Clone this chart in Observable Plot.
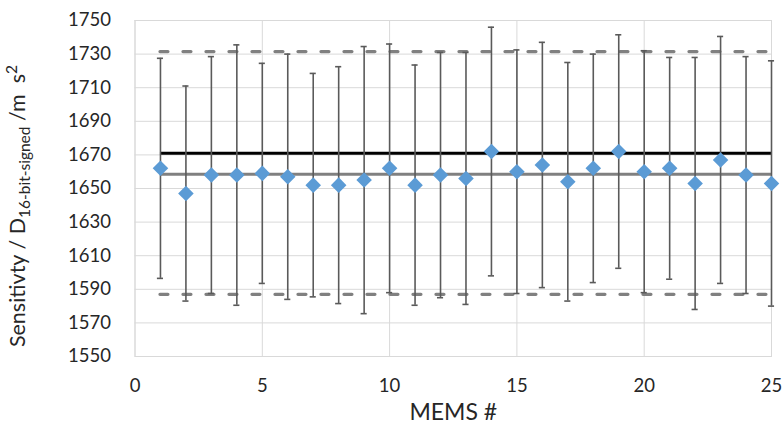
<!DOCTYPE html>
<html>
<head>
<meta charset="utf-8">
<script src="https://cdn.jsdelivr.net/npm/d3@7"></script>
<script src="https://cdn.jsdelivr.net/npm/@observablehq/plot@0.6"></script>
<style>
  body { margin: 0; background: #fff; }
  svg { display: block; }
</style>
</head>
<body>
<div id="chart"></div>
<script>
// MEMS sensor index
const mems = [1, 2, 3, 4, 5, 6, 7, 8, 9, 10, 11, 12, 13, 14, 15, 16, 17, 18, 19, 20, 21, 22, 23, 24, 25];
// Mean sensitivity of each sensor (D16-bit-signed per m s^-2)
const sensitivity = [1662, 1647, 1658, 1658, 1659, 1657, 1652, 1652, 1655, 1662, 1652, 1658, 1656,
                     1672, 1660, 1664, 1654, 1662, 1672, 1660, 1662, 1653, 1667, 1658, 1653];
// Error-bar half width for each sensor
const spread = [65.5, 64, 70.5, 77.5, 65.5, 73, 66.5, 70.5, 79.5, 74, 71.5, 73, 75,
                74, 72.5, 73, 71, 68, 69.5, 72, 66, 75, 73.5, 70.5, 73];
// Reference levels
const nominal = [1671];
const groupMean = [1658.5];
const groupLimits = [1731.5, 1587];

const xTicks = [0, 5, 10, 15, 20, 25];
const yTicks = [1550, 1570, 1590, 1610, 1630, 1650, 1670, 1690, 1710, 1730, 1750];
const xTitle = ["MEMS #"];

const rows = mems.map((m, i) => ({mems: m, s: sensitivity[i], e: spread[i]}));
const first = mems[0], last = mems[mems.length - 1];

const grid = "#d9d9d9";
const barColor = "#5a5a5a";
const lineGray = "#808080";
const ink = "#262626";
const font = "Lato, 'Open Sans', sans-serif";

const chart = Plot.plot({
  width: 782,
  height: 435,
  marginLeft: 134.5,
  marginRight: 11,
  marginTop: 20,
  marginBottom: 79,
  style: {fontFamily: font, fontSize: "18.5px", color: ink, background: "#fff"},
  x: {domain: [0, 25]},
  y: {domain: [1550, 1750]},
  marks: [
    Plot.gridY(yTicks, {stroke: grid, strokeOpacity: 1}),
    Plot.gridX(xTicks, {stroke: grid, strokeOpacity: 1}),
    Plot.frame({stroke: grid}),
    Plot.axisY(yTicks, {tickSize: 0, tickPadding: 24, label: null, tickFormat: d => String(d), fill: ink}),
    Plot.axisX(xTicks, {tickSize: 0, tickPadding: 22, label: null, fill: ink}),
    // limit lines
    Plot.ruleY(groupLimits, {x1: first, x2: last, stroke: lineGray, strokeWidth: 3.2,
                             strokeDasharray: "8,15", strokeLinecap: "round"}),
    // nominal and mean lines
    Plot.ruleY(nominal, {x1: first, x2: last, stroke: "#000", strokeWidth: 3}),
    Plot.ruleY(groupMean, {x1: first, x2: last, stroke: lineGray, strokeWidth: 3}),
    // error bars
    Plot.ruleX(rows, {x: "mems", y1: d => d.s - d.e, y2: d => d.s + d.e, stroke: barColor, strokeWidth: 1.6}),
    Plot.ruleY(rows, {y: d => d.s + d.e, x1: d => d.mems - 0.12, x2: d => d.mems + 0.12, stroke: barColor, strokeWidth: 1.6}),
    Plot.ruleY(rows, {y: d => d.s - d.e, x1: d => d.mems - 0.12, x2: d => d.mems + 0.12, stroke: barColor, strokeWidth: 1.6}),
    // sensor means
    Plot.dot(rows, {x: "mems", y: "s", symbol: "diamond2", r: 7, fill: "#5b9bd5", stroke: "none"}),
    // x-axis title
    Plot.text(xTitle, {frameAnchor: "bottom", dy: 63, fontSize: 23, fill: ink})
  ]
});

// y-axis title with subscript and superscript
const svg = d3.select(chart);
const t = svg.append("text")
  .attr("transform", "translate(25,206) rotate(-90)")
  .attr("text-anchor", "middle")
  .attr("font-family", font)
  .attr("font-size", 21.5)
  .attr("fill", ink);
t.append("tspan").text("Sensitivty / D");
t.append("tspan").attr("font-size", 15.5).attr("dy", "0.3em").text("16-bit-signed");
t.append("tspan").attr("dy", "-0.2em").text(" /m  s");
t.append("tspan").attr("font-size", 15.5).attr("dy", "-0.55em").text("2");

document.getElementById("chart").append(chart);
</script>
</body>
</html>
